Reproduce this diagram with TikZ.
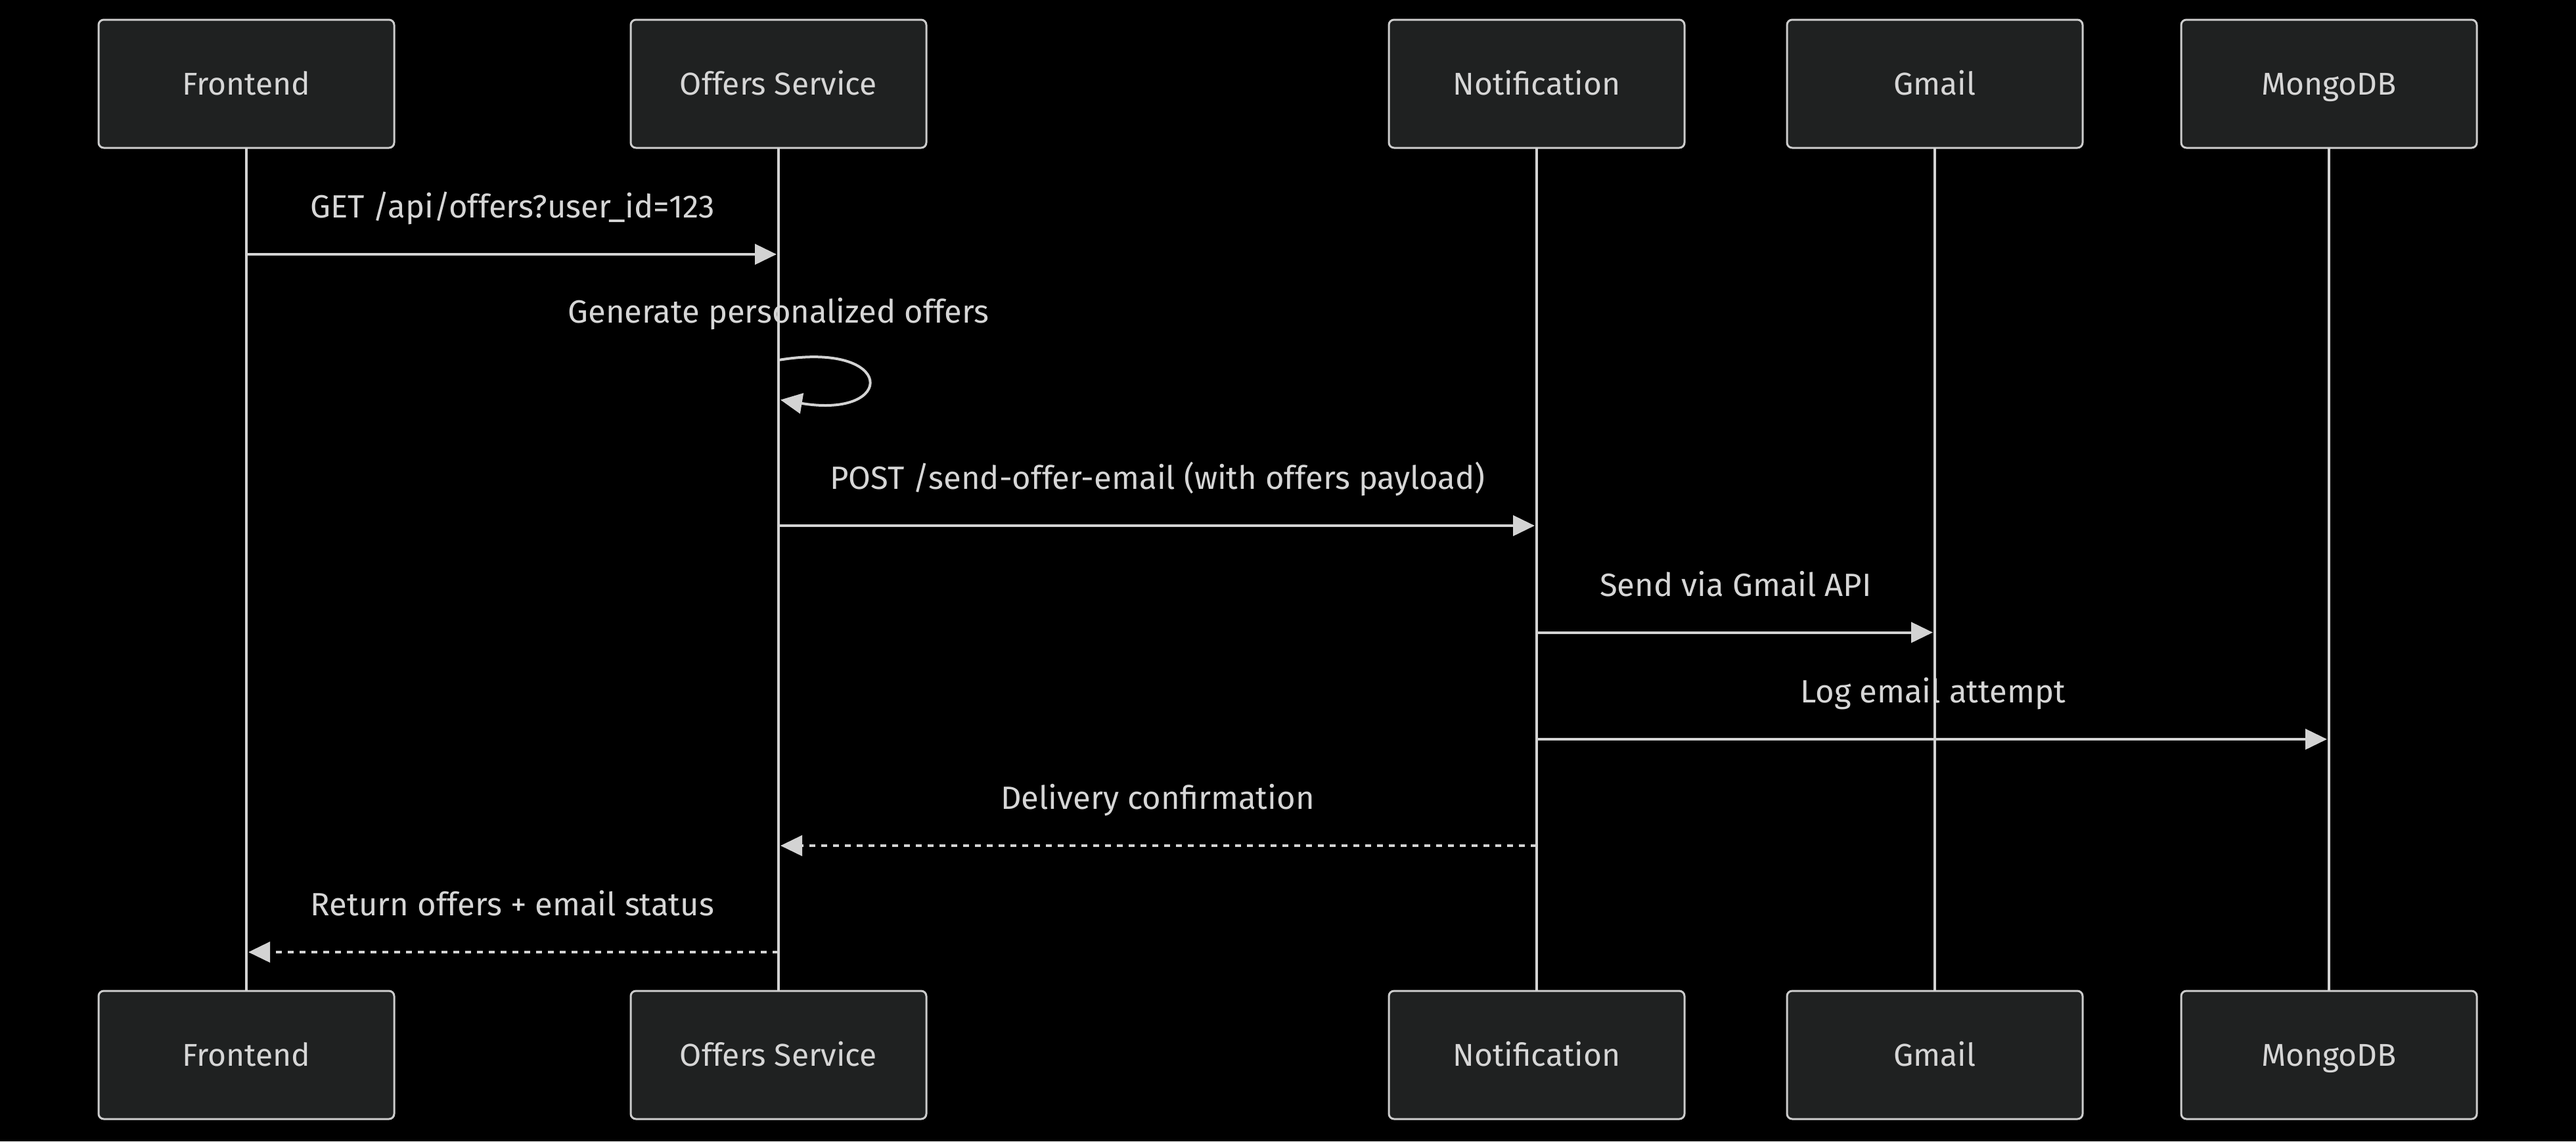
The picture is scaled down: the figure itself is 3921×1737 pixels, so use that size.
\documentclass[tikz,border=0pt]{standalone}
\usepackage{fontspec}
\setmainfont{Fira Sans}
\usetikzlibrary{arrows.meta,calc}
\definecolor{boxfill}{HTML}{1F2121}
\definecolor{boxline}{HTML}{CCCCCC}
\definecolor{ln}{HTML}{D3D3D3}
\definecolor{txt}{HTML}{D6D6D6}
\begin{document}
\begin{tikzpicture}[x=0.5pt,y=-0.5pt,
  actor/.style={draw=boxline, fill=boxfill, line width=1.5pt, rounded corners=4pt,
    minimum width=225pt, minimum height=97.5pt, inner sep=0pt, outer sep=0pt,
    font=\fontsize{24pt}{28pt}\selectfont, text=txt, text height=16.6pt, text depth=0pt},
  life/.style={draw=ln, line width=2.3pt},
  msg/.style={draw=ln, line width=2pt, -{Triangle[length=16.5pt,width=15.5pt]}, shorten >=1.5pt},
  reply/.style={msg, dash pattern=on 4.5pt off 4.5pt},
  lbl/.style={text=txt, font=\fontsize{24.5pt}{28pt}\selectfont, inner sep=0pt, text height=16.9pt, text depth=0pt}]
\fill[black] (0,0) rectangle (3921,1737);
\useasboundingbox (0,0) rectangle (3921,1737);
% top actors
\node[actor] (fe) at (375,127.5) {Frontend};
\node[actor] (os) at (1185,127.5) {Offers Service};
\node[actor] (nt) at (2339,127.5) {Notification};
\node[actor] (gm) at (2945,127.5) {Gmail};
\node[actor] (mg) at (3545,127.5) {MongoDB};
% bottom actors
\node[actor] (fe2) at (375,1605.5) {Frontend};
\node[actor] (os2) at (1185,1605.5) {Offers Service};
\node[actor] (nt2) at (2339,1605.5) {Notification};
\node[actor] (gm2) at (2945,1605.5) {Gmail};
\node[actor] (mg2) at (3545,1605.5) {MongoDB};
% lifelines
\foreach \a in {fe,os,nt,gm,mg}{\draw[life] (\a.south) -- (\a2.north);}
% message points
\coordinate (m1a) at (fe |- 0,387);   \coordinate (m1b) at (os |- 0,387);
\coordinate (s1a) at (os |- 0,548);   \coordinate (s1b) at (os |- 0,608);
\coordinate (m2a) at (os |- 0,800);   \coordinate (m2b) at (nt |- 0,800);
\coordinate (m3a) at (nt |- 0,962.5); \coordinate (m3b) at (gm |- 0,962.5);
\coordinate (m4a) at (nt |- 0,1125);  \coordinate (m4b) at (mg |- 0,1125);
\coordinate (m5a) at (nt |- 0,1287);  \coordinate (m5b) at (os |- 0,1287);
\coordinate (m6a) at (os |- 0,1449);  \coordinate (m6b) at (fe |- 0,1449);
% messages
\draw[msg] (m1a) -- (m1b);
\node[lbl] (l1) at ($(m1a)!0.5!(m1b)+(0,-72)$) {GET /api/offers?user\_id=123};
\draw[msg] (s1a) .. controls ($(s1a)+(180,-30)$) and ($(s1b)+(180,30)$) .. (s1b);
\node[lbl] (l2) at ($(s1a)+(0,-73)$) {Generate personalized offers};
\draw[msg] (m2a) -- (m2b);
\node[lbl] (l3) at ($(m2a)!0.5!(m2b)+(0,-72)$) {POST /send-offer-email (with offers payload)};
\draw[msg] (m3a) -- (m3b);
\node[lbl] (l4) at ($(m3a)!0.5!(m3b)+(0,-72)$) {Send via Gmail API};
\draw[msg] (m4a) -- (m4b);
\node[lbl] (l5) at ($(m4a)!0.5!(m4b)+(0,-72)$) {Log email attempt};
\draw[reply] (m5a) -- (m5b);
\node[lbl] (l6) at ($(m5a)!0.5!(m5b)+(0,-72)$) {Delivery confirmation};
\draw[reply] (m6a) -- (m6b);
\node[lbl] (l7) at ($(m6a)!0.5!(m6b)+(0,-72)$) {Return offers + email status};
\end{tikzpicture}
\end{document}
